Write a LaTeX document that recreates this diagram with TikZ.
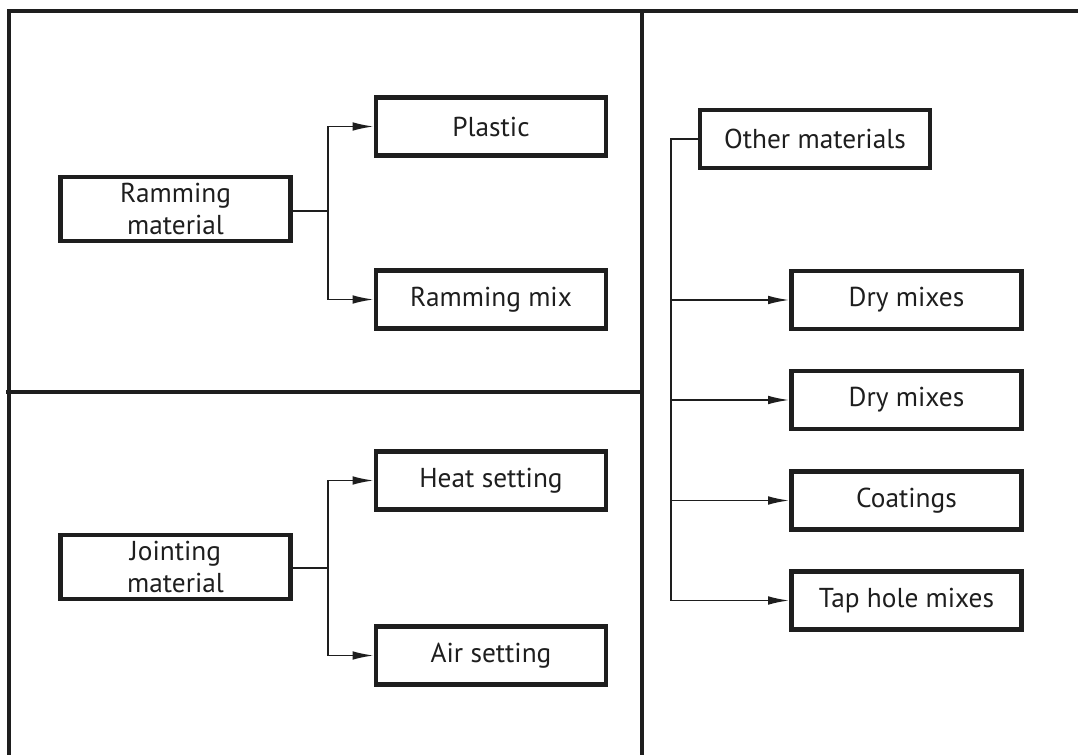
\documentclass[tikz,border=0pt]{standalone}
\usepackage{fontspec}
\setmainfont{PT Sans}
\usetikzlibrary{arrows.meta}
\definecolor{ink}{HTML}{1E1E1E}
\tikzset{
  box/.style={draw=ink, line width=3.2pt, minimum width=172.5pt, minimum height=43.5pt,
    inner sep=0pt, align=center, text=ink, font=\fontsize{20.5}{24}\selectfont},
  tallbox/.style={box, minimum height=48pt},
  frameline/.style={draw=ink, line width=2.4pt},
  link/.style={draw=ink, line width=1.4pt},
  arrowlink/.style={link, -{Latex[length=16pt,width=6.5pt]}},
}
\begin{document}
\begin{tikzpicture}[x=0.75pt,y=-0.75pt]
\useasboundingbox (0,0) rectangle (1078,755);
% frame and dividers
\coordinate (tl) at (9,11);
\coordinate (tr) at (1078,11);
\coordinate (bl) at (9,755);
\coordinate (vt) at (642,11);
\coordinate (vb) at (642,755);
\coordinate (hl) at (6,392);
\coordinate (hr) at (642,392);
\draw[frameline] (bl) -- (tl) -- (tr);
\draw[frameline] (vt) -- (vb);
\draw[frameline] (hl) -- (hr);
% left top
\node[tallbox] (ram) at (175.5,209) {Ramming\\material};
\node[box] (pla) at (491,126.5) {Plastic};
\node[box] (rmx) at (491,299.5) {Ramming mix};
\coordinate (j1) at (328,211);
\draw[link] (ram.east |- j1) -- (j1);
\draw[arrowlink] (j1) |- (pla.west);
\draw[arrowlink] (j1) |- (rmx.west);
% left bottom
\node[tallbox] (joi) at (175.5,567) {Jointing\\material};
\node[box] (hea) at (491,480.5) {Heat setting};
\node[box] (air) at (491,655.5) {Air setting};
\coordinate (j2) at (328,568);
\draw[link] (joi.east |- j2) -- (j2);
\draw[arrowlink] (j2) |- (hea.west);
\draw[arrowlink] (j2) |- (air.west);
% right
\node[box] (oth) at (815,139) {Other materials};
\node[box] (dm1) at (906.5,300) {Dry mixes};
\node[box] (dm2) at (906.5,400) {Dry mixes};
\node[box] (coa) at (906.5,500.5) {Coatings};
\node[box] (tap) at (906.5,600.5) {Tap hole mixes};
\coordinate (r0) at (671,139);
\coordinate (r4) at (671,600.5);
\draw[link] (oth.west) -- (r0) -- (r4);
\draw[arrowlink] (r0 |- dm1.west) -- (dm1.west);
\draw[arrowlink] (r0 |- dm2.west) -- (dm2.west);
\draw[arrowlink] (r0 |- coa.west) -- (coa.west);
\draw[arrowlink] (r4) -- (tap.west);
\end{tikzpicture}
\end{document}
